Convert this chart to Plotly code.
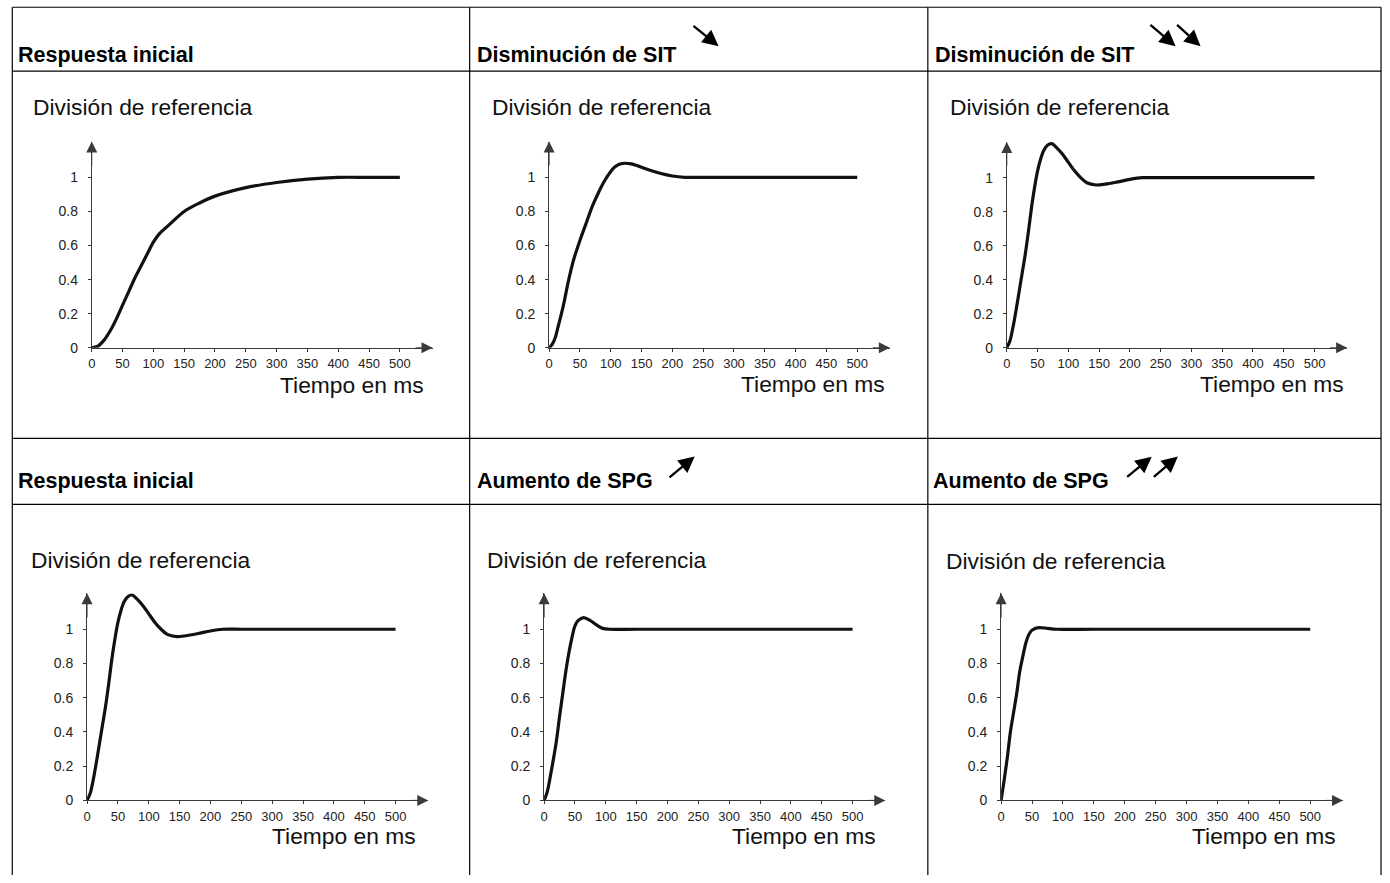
"""Respuesta al escalón: efecto de SIT y SPG sobre la división de referencia."""

import plotly.graph_objects as go

W, H = 1390, 883
_FONT = "Liberation Sans, Arial, Helvetica, sans-serif"
INK = "#111111"
AXIS = "#3a3a3a"

# --- datos (t en ms, respuesta normalizada) ---
T_INICIAL = [0, 10, 20, 30, 40, 50, 60, 70, 80, 90, 100, 110, 125, 150, 175, 200, 250, 300, 350, 400, 450, 500]
Y_INICIAL = [0, 0.01, 0.045, 0.10, 0.17, 0.25, 0.33, 0.41, 0.48, 0.55, 0.62, 0.67, 0.72, 0.80, 0.85, 0.89, 0.94, 0.97, 0.99, 1.0, 1.0, 1.0]

T_SIT1 = [0, 5, 10, 15, 20, 25, 30, 35, 40, 50, 60, 70, 80, 90, 100, 107, 115, 124, 133, 145, 160, 180, 200, 220, 240, 300, 400, 500]
Y_SIT1 = [0, 0.02, 0.06, 0.13, 0.20, 0.28, 0.37, 0.45, 0.52, 0.63, 0.73, 0.83, 0.91, 0.98, 1.035, 1.062, 1.078, 1.083, 1.079, 1.066, 1.046, 1.024, 1.008, 1.0, 1.0, 1.0, 1.0, 1.0]

T_SIT2 = [0, 5, 10, 15, 20, 25, 30, 35, 40, 45, 50, 55, 60, 66, 73, 80, 90, 100, 110, 120, 130, 145, 160, 180, 200, 220, 250, 300, 400, 500]
Y_SIT2 = [0, 0.04, 0.12, 0.22, 0.33, 0.44, 0.55, 0.68, 0.82, 0.94, 1.04, 1.11, 1.16, 1.19, 1.20, 1.18, 1.14, 1.09, 1.04, 1.0, 0.97, 0.957, 0.962, 0.975, 0.99, 1.0, 1.0, 1.0, 1.0, 1.0]

T_SPG1 = [0, 5, 10, 15, 20, 25, 30, 35, 40, 45, 50, 55, 64, 75, 85, 95, 105, 150, 250, 500]
Y_SPG1 = [0, 0.05, 0.14, 0.24, 0.35, 0.49, 0.62, 0.75, 0.86, 0.95, 1.02, 1.05, 1.068, 1.05, 1.025, 1.005, 1.0, 1.0, 1.0, 1.0]

T_SPG2 = [0, 5, 10, 15, 20, 25, 30, 35, 40, 45, 50, 55, 62, 75, 90, 150, 250, 500]
Y_SPG2 = [0, 0.12, 0.25, 0.40, 0.51, 0.62, 0.75, 0.84, 0.92, 0.97, 0.995, 1.005, 1.01, 1.005, 1.0, 1.0, 1.0, 1.0]

X_TICKS = [0, 50, 100, 150, 200, 250, 300, 350, 400, 450, 500]
Y_TICKS = [0, 0.2, 0.4, 0.6, 0.8, 1]
Y_TICK_TEXT = ["0", "0.2", "0.4", "0.6", "0.8", "1"]

TITULOS = ["Respuesta inicial", "Disminución de SIT", "Disminución de SIT",
           "Respuesta inicial", "Aumento de SPG", "Aumento de SPG"]
CURVAS = [(T_INICIAL, Y_INICIAL), (T_SIT1, Y_SIT1), (T_SIT2, Y_SIT2),
          (T_SIT2, Y_SIT2), (T_SPG1, Y_SPG1), (T_SPG2, Y_SPG2)]
Y_LABEL = "División de referencia"
X_LABEL = "Tiempo en ms"

X_MAX, Y_MAX = 553, 1.21

# --- geometría en píxeles (origen x, x=500, y=0, y=1) ---
PANELES = [
    dict(ox=88.0, x5=397.0, y0=351.0, y1=179.0, hx=12, hy=55, dx=27, dy=107.5, tx=423, ty=388.5),
    dict(ox=546.7, x5=855.7, y0=351.0, y1=179.0, hx=472, hy=55, dx=487, dy=107.5, tx=886, ty=387.5),
    dict(ox=1005.7, x5=1314.3, y0=351.0, y1=179.3, hx=932, hy=55, dx=947, dy=107.5, tx=1346, ty=387.5),
    dict(ox=83.3, x5=392.7, y0=807.7, y1=635.0, hx=12, hy=485.5, dx=25, dy=565, tx=415, ty=843.5),
    dict(ox=541.7, x5=851.0, y0=807.7, y1=635.0, hx=472, hy=485.5, dx=482, dy=565.5, tx=877, ty=843.5),
    dict(ox=1000.0, x5=1310.0, y0=807.7, y1=635.0, hx=930, hy=485.5, dx=943, dy=566, tx=1338, ty=844),
]

# flechas de los encabezados: (punta x, punta y, cola x, cola y)
FLECHAS = [
    (716.7, 46.7, 690.0, 25.0),
    (1175.0, 46.7, 1148.3, 24.0),
    (1200.0, 46.7, 1175.0, 24.0),
    (692.7, 460.7, 666.0, 482.7),
    (1151.0, 461.0, 1125.0, 482.3),
    (1177.3, 460.7, 1151.7, 482.3),
]

# rejilla de la tabla
V_LINES = [8.3, 467.0, 926.5, 1381.0]
H_LINES = [7.3, 71.7, 442.3, 509.0]


def px(x):
    return x / W


def py(y):
    return 1 - y / H


fig = go.Figure()
annotations = []
layout_axes = {}

for i, (p, (tt, yy)) in enumerate(zip(PANELES, CURVAS), start=1):
    sx = (p["x5"] - p["ox"]) / 500.0
    sy = p["y0"] - p["y1"]
    xs = "" if i == 1 else str(i)
    xdom = [px(p["ox"]), px(p["ox"] + X_MAX * sx)]
    ydom = [py(p["y0"]), py(p["y0"] - Y_MAX * sy)]

    fig.add_trace(
        go.Scatter(
            x=tt,
            y=yy,
            mode="lines",
            line=dict(color=INK, width=3.2, shape="spline", smoothing=0.9),
            cliponaxis=False,
            xaxis=f"x{xs}",
            yaxis=f"y{xs}",
            showlegend=False,
            hoverinfo="skip",
        )
    )
    layout_axes[f"xaxis{xs}"] = dict(
        domain=xdom, anchor=f"y{xs}", range=[0, X_MAX], fixedrange=True,
        showgrid=False, zeroline=False, showline=True, linecolor=AXIS, linewidth=1,
        ticks="outside", ticklen=3, tickcolor=AXIS, tickwidth=1,
        tickvals=X_TICKS, tickfont=dict(size=13, color="#222"), ticklabelstandoff=1,
    )
    layout_axes[f"yaxis{xs}"] = dict(
        domain=ydom, anchor=f"x{xs}", range=[0, Y_MAX], fixedrange=True,
        showgrid=False, zeroline=False, showline=True, linecolor=AXIS, linewidth=1,
        ticks="outside", ticklen=3, tickcolor=AXIS, tickwidth=1,
        tickvals=Y_TICKS, ticktext=Y_TICK_TEXT, tickfont=dict(size=14, color="#222"),
        ticklabelstandoff=7,
    )

    # puntas de flecha de los ejes
    annotations.append(dict(
        x=X_MAX, y=0, ax=X_MAX - 30, ay=0, xref=f"x{xs}", yref=f"y{xs}",
        axref=f"x{xs}", ayref=f"y{xs}", text="", showarrow=True,
        arrowhead=2, arrowsize=2.2, arrowwidth=1, arrowcolor=AXIS,
    ))
    annotations.append(dict(
        x=0, y=Y_MAX, ax=0, ay=Y_MAX - 0.15, xref=f"x{xs}", yref=f"y{xs}",
        axref=f"x{xs}", ayref=f"y{xs}", text="", showarrow=True,
        arrowhead=2, arrowsize=2.2, arrowwidth=1, arrowcolor=AXIS,
    ))

    # textos
    annotations.append(dict(
        x=px(p["hx"]), y=py(p["hy"]), xref="paper", yref="paper", xanchor="left", yanchor="middle",
        text=f"<b>{TITULOS[i - 1]}</b>", showarrow=False, font=dict(size=21.5, color="#000"),
    ))
    annotations.append(dict(
        x=px(p["dx"]), y=py(p["dy"]), xref="paper", yref="paper", xanchor="left", yanchor="middle",
        text=Y_LABEL, showarrow=False, font=dict(size=22.8, color="#111"),
    ))
    annotations.append(dict(
        x=px(p["tx"]), y=py(p["ty"]), xref="paper", yref="paper", xanchor="right", yanchor="middle",
        text=X_LABEL, showarrow=False, font=dict(size=22.8, color="#111"),
    ))

for (x1, y1, x0, y0) in FLECHAS:
    annotations.append(dict(
        x=px(x1), y=py(y1), xref="paper", yref="paper", ax=x0 - x1, ay=y0 - y1,
        text="", showarrow=True, arrowhead=2, arrowsize=1.4, arrowwidth=2.3, arrowcolor="#000",
    ))

shapes = []
for xv in V_LINES:
    shapes.append(dict(type="line", xref="paper", yref="paper", x0=px(xv), x1=px(xv),
                       y0=py(H_LINES[0]), y1=0, line=dict(color="#000", width=1.2)))
for yv in H_LINES:
    shapes.append(dict(type="line", xref="paper", yref="paper", x0=px(V_LINES[0]), x1=px(V_LINES[-1]),
                       y0=py(yv), y1=py(yv), line=dict(color="#000", width=1.2)))

fig.update_layout(
    width=W,
    height=H,
    margin=dict(l=0, r=0, t=0, b=0),
    paper_bgcolor="white",
    plot_bgcolor="white",
    font=dict(family=_FONT, size=13, color="#222"),
    showlegend=False,
    annotations=annotations,
    shapes=shapes,
    **layout_axes,
)

fig.write_html("out.html", config=dict(displayModeBar=False),
               post_script="document.body.style.margin='0';document.body.style.overflow='hidden';")
